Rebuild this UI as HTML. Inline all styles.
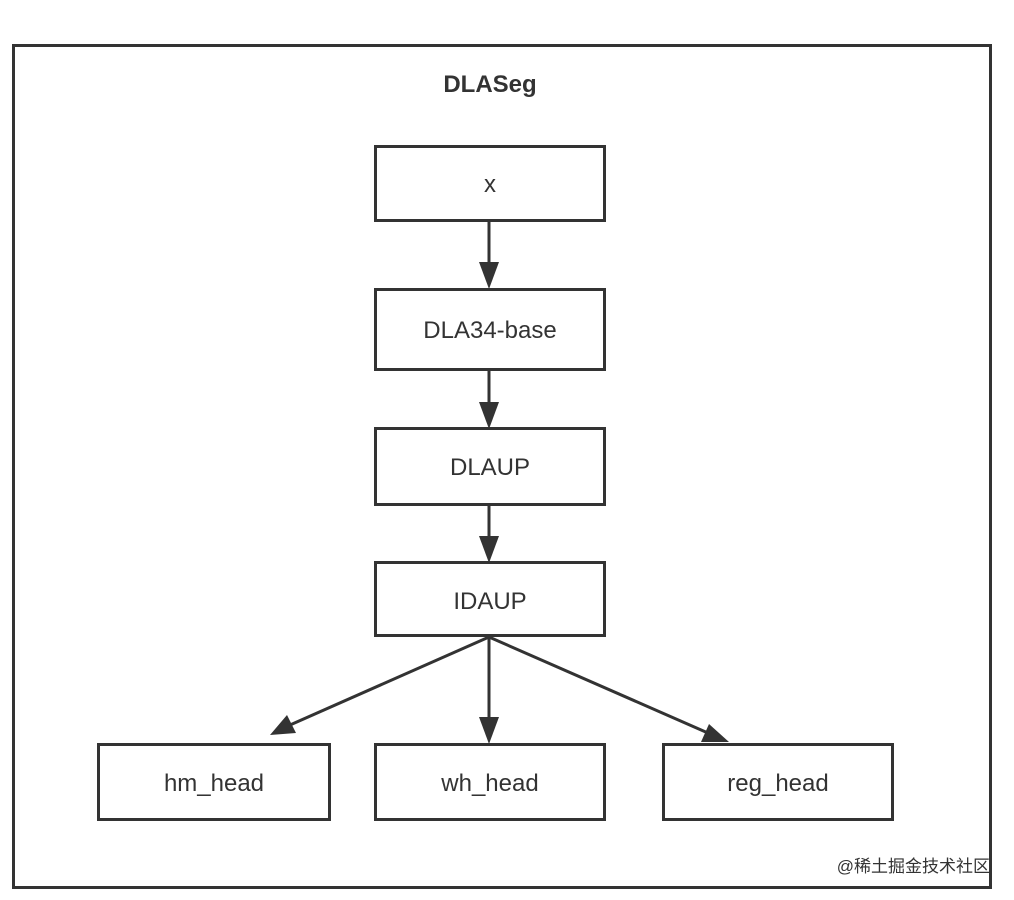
<!DOCTYPE html>
<html><head><meta charset="utf-8"><style>
html,body{margin:0;padding:0;background:#fff;}
svg{display:block;}
text{font-family:"Liberation Sans","DejaVu Sans",sans-serif;fill:#333;}
</style></head><body>
<svg width="1014" height="900" viewBox="0 0 1014 900" xmlns="http://www.w3.org/2000/svg">
<defs>
<marker id="a" markerWidth="10" markerHeight="10" refX="9" refY="5" orient="auto" markerUnits="userSpaceOnUse" viewBox="0 0 10 10">
</marker>
</defs>
<rect x="13.5" y="45.5" width="977" height="842" fill="none" stroke="#333" stroke-width="3"/>
<text x="490" y="92" font-size="24" font-weight="bold" text-anchor="middle" fill="#222">DLASeg</text>
<g fill="#fff" stroke="#333" stroke-width="3">
<rect x="375.5" y="146.5" width="229" height="74"/>
<rect x="375.5" y="289.5" width="229" height="80"/>
<rect x="375.5" y="428.5" width="229" height="76"/>
<rect x="375.5" y="562.5" width="229" height="73"/>
<rect x="98.5" y="744.5" width="231" height="75"/>
<rect x="375.5" y="744.5" width="229" height="75"/>
<rect x="663.5" y="744.5" width="229" height="75"/>
</g>
<g stroke="#333" stroke-width="3" fill="none">
<line x1="489" y1="221" x2="489" y2="268"/>
<line x1="489" y1="370" x2="489" y2="408"/>
<line x1="489" y1="505" x2="489" y2="542"/>
<line x1="489" y1="636" x2="489" y2="724"/>
<line x1="489" y1="637" x2="290" y2="725"/>
<line x1="489" y1="637" x2="708" y2="733"/>
</g>
<g fill="#333">
<polygon points="489,289 479,262 499,262"/>
<polygon points="489,429 479,402 499,402"/>
<polygon points="489,563 479,536 499,536"/>
<polygon points="489,744 479,717 499,717"/>
<polygon points="270,735 287,715 296,733"/>
<polygon points="729,742 701,742 709,724"/>
</g>
<g font-size="24" text-anchor="middle">
<text x="490" y="192">x</text>
<text x="490" y="338">DLA34-base</text>
<text x="490" y="475">DLAUP</text>
<text x="490" y="609">IDAUP</text>
<text x="214" y="791">hm_head</text>
<text x="490" y="791">wh_head</text>
<text x="778" y="791">reg_head</text>
</g>
<text x="990" y="872" font-size="17" text-anchor="end" fill="#aaa" style="font-family:'Liberation Sans','Noto Sans CJK SC',sans-serif">@稀土掘金技术社区</text>
</svg>
</body></html>
